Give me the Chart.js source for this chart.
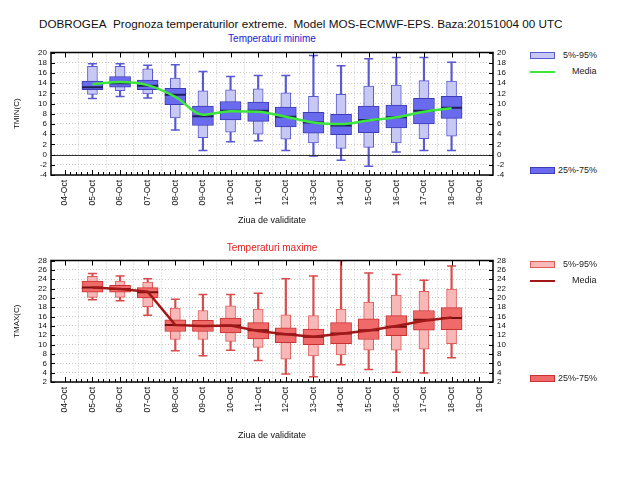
<!DOCTYPE html>
<html lang="ro">
<head>
    <meta charset="UTF-8">
    <title>DOBROGEA Prognoza temperaturilor extreme</title>
    <script src="https://cdn.jsdelivr.net/npm/chart.js"></script>
    <style>
        body {
            margin: 0;
            width: 638px;
            height: 478px;
            background: #fff;
            position: relative;
            font-family: "Liberation Sans", Arial, sans-serif;
            overflow: hidden;
        }
        .txt {
            position: absolute;
            white-space: nowrap;
            line-height: 1;
        }
        .main-title {
            left: 39px;
            top: 18px;
            font-size: 11.7px;
            color: #111;
        }
        .sub-title {
            font-size: 10px;
            width: 442px;
            left: 51px;
            text-align: center;
        }
        .x-title {
            font-size: 9px;
            width: 442px;
            left: 51px;
            text-align: center;
            color: #111;
        }
        canvas {
            position: absolute;
            left: 0;
        }
        .leg-box {
            position: absolute;
            left: 530px;
            width: 23px;
            height: 5px;
            border: 1px solid;
        }
        .leg-line {
            position: absolute;
            left: 530px;
            width: 25px;
            height: 2px;
        }
        .leg-txt {
            position: absolute;
            font-size: 9px;
            color: #222;
            line-height: 1;
        }
        .chart-wrap {
            position: absolute;
            left: 0;
            width: 520px;
            height: 200px;
        }
    </style>
</head>
<body>
    <div class="txt main-title">DOBROGEA&nbsp; Prognoza temperaturilor extreme.&nbsp; Model MOS-ECMWF-EPS. Baza:20151004 00 UTC</div>

    <div class="txt sub-title" style="top:34px;color:#2323d0;">Temperaturi minime</div>
    <div class="chart-wrap" style="top:40px;"><canvas id="minChart"></canvas></div>
    <div class="txt x-title" style="top:216px;">Ziua de validitate</div>

    <div class="leg-box" style="top:52px;background:#c8c8f4;border-color:#5a5ad0;"></div>
    <div class="leg-txt" style="left:563px;top:51px;">5%-95%</div>
    <div class="leg-line" style="top:71px;background:#3ce63c;"></div>
    <div class="leg-txt" style="left:572px;top:67px;">Media</div>
    <div class="leg-box" style="top:167px;background:#6a6aee;border-color:#3c3cb4;"></div>
    <div class="leg-txt" style="left:558px;top:166px;">25%-75%</div>

    <div class="txt sub-title" style="top:243px;color:#e02020;">Temperaturi maxime</div>
    <div class="chart-wrap" style="top:248px;"><canvas id="maxChart"></canvas></div>
    <div class="txt x-title" style="top:431px;">Ziua de validitate</div>

    <div class="leg-box" style="top:261px;background:#f8b8b8;border-color:#e05a5a;"></div>
    <div class="leg-txt" style="left:563px;top:260px;">5%-95%</div>
    <div class="leg-line" style="top:280px;background:#a01818;"></div>
    <div class="leg-txt" style="left:572px;top:276px;">Media</div>
    <div class="leg-box" style="top:375px;background:#f06a6a;border-color:#c83232;"></div>
    <div class="leg-txt" style="left:558px;top:374px;">25%-75%</div>

    <script>
        // axa x: etichete zile
        const tickLabels = ['04-Oct', '05-Oct', '06-Oct', '07-Oct', '08-Oct', '09-Oct', '10-Oct', '11-Oct',
                            '12-Oct', '13-Oct', '14-Oct', '15-Oct', '16-Oct', '17-Oct', '18-Oct', '19-Oct'];
        const days = ['05-Oct', '06-Oct', '07-Oct', '08-Oct', '09-Oct', '10-Oct', '11-Oct',
                      '12-Oct', '13-Oct', '14-Oct', '15-Oct', '16-Oct', '17-Oct', '18-Oct'];

        // temperaturi minime
        const tminMin    = [11.0, 11.4, 11.1,  4.8,  0.8,  2.5,  2.7,  0.8, -0.3, -1.1, -2.3,  0.5,  0.8,  0.8];
        const tminP05    = [11.8, 12.5, 11.9,  7.2,  3.3,  4.4,  4.0,  3.0,  2.3,  1.2,  1.4,  2.3,  3.1,  3.6];
        const tminP25    = [12.7, 13.2, 12.7,  9.8,  5.7,  6.8,  6.5,  5.4,  4.2,  3.9,  4.3,  5.2,  6.0,  7.1];
        const tminMedian = [13.2, 14.0, 13.5, 11.7,  7.5,  8.6,  8.6,  7.4,  6.3,  5.7,  6.8,  7.3,  8.6,  9.2];
        const tminP75    = [14.4, 15.3, 14.6, 13.0,  9.5, 10.4, 10.3,  9.3,  8.3,  7.9,  9.5,  9.7, 11.0, 11.4];
        const tminP95    = [17.3, 17.3, 16.8, 15.0, 12.5, 12.7, 12.9, 12.1, 11.4, 11.8, 13.4, 13.6, 14.5, 14.4];
        const tminMax    = [17.8, 17.8, 17.5, 17.6, 16.3, 15.3, 15.5, 15.5, 19.4, 17.4, 18.8, 19.0, 19.0, 18.1];
        const tminMean   = [13.8, 14.2, 13.6, 11.3,  7.8,  8.5,  8.4,  7.4,  6.3,  6.0,  6.7,  7.3,  8.4,  9.1];

        // temperaturi maxime
        const tmaxMin    = [19.6, 19.4, 16.3,  8.7,  7.6,  8.8,  6.6,  3.7,  3.1,  5.7,  4.7,  4.1,  3.9,  7.2];
        const tmaxP05    = [20.1, 20.1, 18.1, 11.1, 11.1, 10.7,  9.4,  6.9,  7.6,  7.8,  8.8,  8.8,  9.0, 10.2];
        const tmaxP25    = [21.2, 21.2, 20.0, 12.8, 12.8, 12.5, 11.2, 10.4, 10.0, 10.2, 11.1, 11.9, 13.1, 13.2];
        const tmaxMedian = [22.2, 21.9, 21.2, 14.2, 14.0, 14.1, 13.1, 12.2, 11.7, 12.4, 13.1, 13.8, 15.3, 15.7];
        const tmaxP75    = [23.6, 22.7, 22.2, 15.3, 15.2, 15.7, 14.7, 13.6, 13.3, 14.7, 15.5, 16.2, 17.3, 17.9];
        const tmaxP95    = [24.6, 23.6, 23.4, 17.8, 17.3, 18.3, 17.6, 16.4, 16.2, 17.6, 19.1, 20.6, 21.4, 21.9];
        const tmaxMax    = [25.2, 24.7, 24.1, 19.7, 20.7, 20.7, 21.0, 24.1, 24.7, 28.0, 25.3, 25.0, 23.8, 26.8];
        const tmaxMean   = [22.2, 21.9, 21.3, 14.2, 14.0, 14.1, 12.9, 12.2, 11.7, 12.3, 13.0, 14.0, 15.1, 15.8];

        const xs = days.map(d => tickLabels.indexOf(d));

        // rama, linia zero si ticurile mici (in interior)
        const framePlugin = {
            id: 'frame',
            afterDatasetsDraw(chart, args, opts) {
                const { ctx, chartArea: a, scales } = chart;
                ctx.save();
                if (opts.zero !== undefined) {
                    const y0 = scales.y.getPixelForValue(opts.zero);
                    ctx.strokeStyle = '#333';
                    ctx.lineWidth = 1;
                    ctx.beginPath();
                    ctx.moveTo(a.left, Math.round(y0) + 0.5);
                    ctx.lineTo(a.right, Math.round(y0) + 0.5);
                    ctx.stroke();
                }
                ctx.strokeStyle = '#000';
                ctx.lineWidth = 1;
                ctx.beginPath();
                for (let v = 0; v <= 15.001; v += 0.2) {
                    const x = Math.round(scales.x.getPixelForValue(v)) + 0.5;
                    const major = Math.abs(v - Math.round(v)) < 0.01;
                    const len = major ? 5 : 3;
                    ctx.moveTo(x, a.bottom);
                    ctx.lineTo(x, a.bottom - len);
                    if (major) {
                        ctx.moveTo(x, a.top);
                        ctx.lineTo(x, a.top + len);
                    }
                }
                const yt = scales.y.ticks;
                yt.forEach(t => {
                    const y = Math.round(scales.y.getPixelForValue(t.value)) + 0.5;
                    ctx.moveTo(a.left, y);
                    ctx.lineTo(a.left + 4, y);
                    ctx.moveTo(a.right, y);
                    ctx.lineTo(a.right - 4, y);
                });
                ctx.stroke();
                ctx.lineWidth = 1.5;
                ctx.strokeRect(a.left, a.top, a.right - a.left, a.bottom - a.top);
                ctx.restore();
            }
        };

        function buildChart(id, s) {
            const box = (lo, hi) => xs.map((x, i) => ({ x: x, y: [lo[i], hi[i]] }));
            const pts = arr => xs.map((x, i) => ({ x: x, y: arr[i] }));
            const tickFont = { family: '"Liberation Sans", Arial, sans-serif', size: 8 };
            const fitW = w => function (scale) { scale.width = w; };

            return new Chart(document.getElementById(id), {
                type: 'bar',
                data: {
                    datasets: [
                        { type: 'bar', data: box(s.min, s.max), backgroundColor: s.whisker, barThickness: 1.5,
                          grouped: false, order: 6 },
                        { type: 'scatter', data: pts(s.min), pointStyle: 'line', radius: 4.5, borderWidth: 1.5,
                          borderColor: s.whisker, order: 5 },
                        { type: 'scatter', data: pts(s.max), pointStyle: 'line', radius: 4.5, borderWidth: 1.5,
                          borderColor: s.whisker, order: 5 },
                        { type: 'bar', data: box(s.p05, s.p95), backgroundColor: s.lightFill, borderColor: s.lightBorder,
                          borderWidth: 1, borderSkipped: false, barThickness: 10, grouped: false, order: 4 },
                        { type: 'bar', data: box(s.p25, s.p75), backgroundColor: s.darkFill, borderColor: s.darkBorder,
                          borderWidth: 1, borderSkipped: false, barThickness: 21, grouped: false, order: 3 },
                        { type: 'scatter', data: pts(s.median), pointStyle: 'line', radius: 10.5, borderWidth: 2,
                          borderColor: s.medianColor, order: 2 },
                        { type: 'line', data: pts(s.mean), borderColor: s.meanColor, borderWidth: 2.5,
                          pointRadius: 0, tension: s.tension, cubicInterpolationMode: s.cubic, fill: false, order: 1 }
                    ]
                },
                options: {
                    responsive: true,
                    maintainAspectRatio: false,
                    animation: false,
                    events: [],
                    layout: { padding: { left: 10, top: 11, right: 0, bottom: 0 } },
                    plugins: {
                        legend: { display: false },
                        tooltip: { enabled: false },
                        frame: { zero: s.zero }
                    },
                    scales: {
                        x: {
                            type: 'linear',
                            min: 0,
                            max: 15,
                            afterFit: function (scale) { scale.height = s.xHeight; },
                            ticks: {
                                stepSize: 1,
                                autoSkip: false,
                                maxRotation: 90,
                                minRotation: 90,
                                padding: 5,
                                color: '#111',
                                font: { family: tickFont.family, size: 8.5 },
                                callback: v => tickLabels[v]
                            },
                            grid: { color: '#c8c8c8', drawTicks: false },
                            border: { display: false, dash: [1, 2] }
                        },
                        y: {
                            position: 'left',
                            min: s.yMin,
                            max: s.yMax,
                            afterFit: fitW(41),
                            title: { display: true, text: s.yTitle, color: '#111', font: tickFont, padding: 2 },
                            ticks: { stepSize: 2, autoSkip: false, padding: 4, color: '#111', font: tickFont },
                            grid: { color: '#c8c8c8', drawTicks: false },
                            border: { display: false, dash: [1, 2] }
                        },
                        y2: {
                            position: 'right',
                            min: s.yMin,
                            max: s.yMax,
                            afterFit: fitW(27),
                            ticks: { stepSize: 2, autoSkip: false, padding: 4, color: '#111', font: tickFont },
                            grid: { display: false, drawTicks: false },
                            border: { display: false }
                        }
                    }
                },
                plugins: [framePlugin]
            });
        }

        buildChart('minChart', {
            min: tminMin, p05: tminP05, p25: tminP25, median: tminMedian,
            p75: tminP75, p95: tminP95, max: tminMax, mean: tminMean,
            yMin: -4, yMax: 20, yTitle: 'TMIN(C)', zero: 0, xHeight: 65,
            whisker: '#5a5ad0', lightFill: '#c8c8f4', lightBorder: '#5a5ad0',
            darkFill: '#6a6aee', darkBorder: '#3c3cb4', medianColor: '#1e1e5a',
            meanColor: '#3ce63c', tension: 0.4, cubic: 'monotone'
        });

        buildChart('maxChart', {
            min: tmaxMin, p05: tmaxP05, p25: tmaxP25, median: tmaxMedian,
            p75: tmaxP75, p95: tmaxP95, max: tmaxMax, mean: tmaxMean,
            yMin: 2, yMax: 28, yTitle: 'TMAX(C)', xHeight: 66,
            whisker: '#d84c4c', lightFill: '#f8b8b8', lightBorder: '#e05a5a',
            darkFill: '#f06a6a', darkBorder: '#c83232', medianColor: '#781010',
            meanColor: '#a01818', tension: 0, cubic: 'default'
        });
    </script>
</body>
</html>
